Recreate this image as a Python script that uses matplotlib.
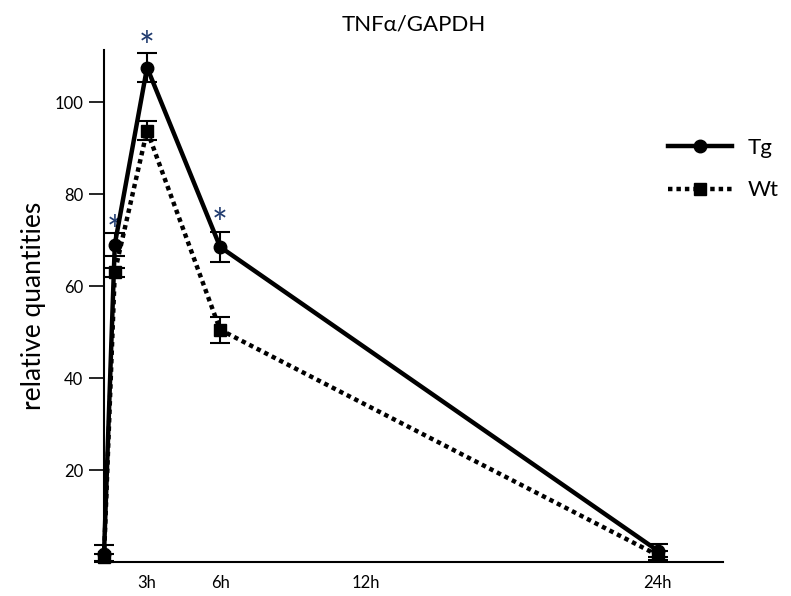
import numpy as np
import matplotlib.pyplot as plt
from matplotlib.lines import Line2D

# time points (hours) and values
hours = [0, 0.75, 3, 6, 24]
tg = [1.8, 69.0, 107.5, 68.5, 2.5]
tg_err = [1.9, 2.5, 3.2, 3.2, 1.5]
wt = [1.0, 63.0, 93.8, 50.5, 1.5]
wt_err = [0.8, 1.0, 2.0, 2.8, 1.0]

xtick_hours = [3, 6, 12, 24]
xtick_labels = ['3h', '6h', '12h', '24h']
ytick_vals = [20, 40, 60, 80, 100]
star_hours = [0.75, 3, 6]
star_vals = [71.5, 111.5, 73.0]

# piecewise axis: early hours are squeezed as in the original
h_knots = [0, 3, 6, 24, 40]
p_knots = [0, 43, 116, 553, 942]

def fwd(h):
    return np.interp(h, h_knots, p_knots)

def inv(p):
    return np.interp(p, p_knots, h_knots)

plt.rcParams['font.family'] = ['Lato', 'DejaVu Sans']

fig = plt.figure(figsize=(7.91, 5.96), dpi=100)
ax = fig.add_axes([0.1315, 0.057, 0.782, 0.859])
ax.set_xscale('function', functions=(fwd, inv))

ax.errorbar(hours, tg, yerr=tg_err, color='black', lw=3.2, marker='o', ms=9,
            capsize=7, capthick=1.5, elinewidth=1.5, zorder=3, clip_on=False)
ax.errorbar(hours, wt, yerr=wt_err, color='black', lw=3.2, ls=(0, (1, 0.9)),
            marker='s', ms=9, capsize=7, capthick=1.5, elinewidth=1.5,
            zorder=2, clip_on=False)

for h, v in zip(star_hours, star_vals):
    ax.text(h, v, '*', ha='center', va='center', fontsize=27, color='#1f3a6e')

ax.set_xlim(inv(-3), inv(618))
ax.set_ylim(0, 111.3)
ax.set_xticks(xtick_hours)
ax.set_xticklabels(xtick_labels, fontsize=12)
ax.tick_params(axis='x', length=0, pad=9)
ax.set_yticks(ytick_vals)
ax.tick_params(axis='y', length=11, width=1.2, labelsize=12, pad=4)

ax.spines['top'].set_visible(False)
ax.spines['right'].set_visible(False)
ax.spines['left'].set_linewidth(1.5)
ax.spines['bottom'].set_linewidth(1.5)
ax.spines['left'].set_position(('data', 0))

ax.set_ylabel('relative quantities', fontsize=19, labelpad=6)
ax.set_title('TNFα/GAPDH', fontsize=16, pad=14)

handles = [
    Line2D([], [], color='black', lw=3.2, marker='o', ms=9),
    Line2D([], [], color='black', lw=3.2, ls=(0, (1, 0.9)), marker='s', ms=9),
]
fig.legend(handles, ['Tg', 'Wt'], loc='upper left',
           bbox_to_anchor=(0.8445, 0.768), frameon=False, fontsize=16,
           handlelength=2.9, labelspacing=1.0, handletextpad=0.7,
           borderpad=0, borderaxespad=0)

fig.savefig('out.png', dpi=100)
